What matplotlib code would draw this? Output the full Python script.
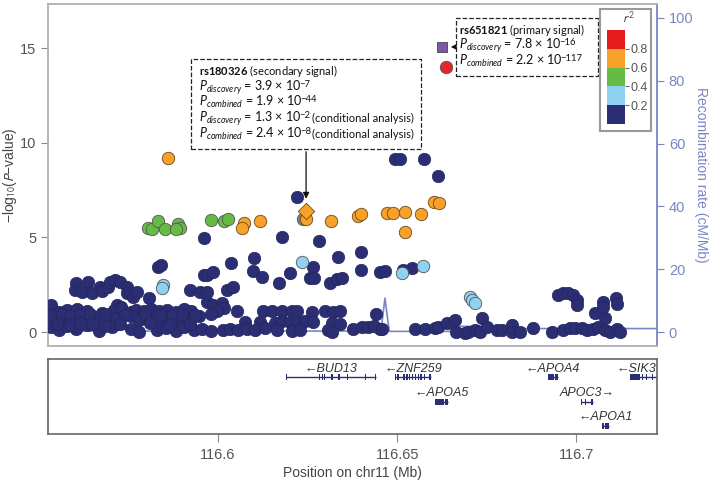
import matplotlib
matplotlib.use('Agg')
import matplotlib.pyplot as plt
from matplotlib.patches import Rectangle

plt.rcParams['font.family'] = ['Liberation Sans', 'DejaVu Sans']
plt.rcParams['mathtext.fontset'] = 'custom'
plt.rcParams['mathtext.rm'] = 'Lato'
plt.rcParams['mathtext.it'] = 'Lato:italic'
plt.rcParams['mathtext.bf'] = 'Lato:bold'

# ---- data (position in Mb, -log10 P) ----
dark_pos = [
    116.6494, 116.6508, 116.6575, 116.6614, 116.6220, 116.5961, 116.6179, 116.6282,
    116.5833, 116.5841, 116.6036, 116.6100, 116.6098, 116.6123, 116.6170, 116.6201,
    116.6265, 116.6257, 116.6268, 116.6335, 116.6312, 116.6332, 116.6346, 116.6399,
    116.6399, 116.6452, 116.6466, 116.6516, 116.6541, 116.5961, 116.5969, 116.5986,
    116.6025, 116.6042, 116.5969, 116.5986, 116.6011, 116.6017, 116.5997, 116.6053,
    # left cluster
    116.5604, 116.5637, 116.5601, 116.5621, 116.5648, 116.5671, 116.5676, 116.5693,
    116.5699, 116.5713, 116.5727, 116.5746, 116.5746, 116.5763, 116.5774, 116.5807,
    116.5922, 116.5950, 116.5969, 116.5534, 116.5719, 116.5729,
    # low band
    116.5556, 116.5579, 116.5607, 116.5635, 116.5676, 116.5710, 116.5729, 116.5757,
    116.5771, 116.5794, 116.5813, 116.5835, 116.5858, 116.5883, 116.5905, 116.5925,
    116.6126, 116.6151, 116.6179, 116.6206, 116.6220, 116.6262, 116.6299, 116.6321, 116.6340,
    116.5542, 116.5570, 116.5598, 116.5626, 116.5654, 116.5696, 116.5715, 116.5757,
    116.5780, 116.5802, 116.5830, 116.5858, 116.5886, 116.5914, 116.5947, 116.5980,
    116.6075, 116.6117, 116.6159, 116.6179, 116.6201, 116.6223, 116.6243, 116.6265,
    116.6318, 116.6340,
    116.5534, 116.5556, 116.5579, 116.5604, 116.5635, 116.5668, 116.5704, 116.5757,
    116.5780, 116.5830, 116.5855, 116.5883, 116.5905, 116.5933, 116.5955, 116.5980,
    116.6014, 116.6033, 116.6056, 116.6081, 116.6103, 116.6131, 116.6165, 116.6206,
    116.6229, 116.6307, 116.6318, 116.6377, 116.6452,
    116.5531, 116.5565, 116.5588, 116.5616, 116.5643, 116.5671, 116.5685, 116.5741,
    116.5796, 116.5838, 116.5872, 116.5900, 116.5936,
    116.5551, 116.5588, 116.5616, 116.5648, 116.5685, 116.5727, 116.5811, 116.5866, 116.5922,
    # right side
    116.6402, 116.6419, 116.6435, 116.6441, 116.6458, 116.6550, 116.6578, 116.6605,
    116.6614, 116.6639, 116.6661, 116.6664, 116.6689, 116.6698, 116.6717, 116.6731,
    116.6737, 116.6751, 116.6778, 116.6792, 116.6820, 116.6820, 116.6843, 116.6879,
    116.6932, 116.6963, 116.6982, 116.6996, 116.7016, 116.7030, 116.7046, 116.7060,
    116.7080, 116.7094, 116.7113, 116.7122,
    116.6949, 116.6963, 116.6977, 116.6990, 116.7002, 116.7002, 116.7074, 116.7074,
    116.7052, 116.7080, 116.7110, 116.7113,
]
dark_logp = [
    9.15, 9.15, 9.15, 8.25, 7.14, 4.97, 5.03, 4.81,
    3.44, 3.54, 3.65, 3.92, 3.23, 2.91, 2.59, 3.12,
    3.44, 2.86, 2.86, 3.97, 2.59, 2.80, 2.86, 4.23,
    3.28, 3.17, 3.23, 3.28, 3.39, 3.02, 3.02, 3.17,
    2.22, 2.38, 1.59, 1.43, 1.53, 1.27, 1.11, 1.11,
    2.59, 2.65, 2.22, 2.12, 2.06, 2.38, 2.17, 2.38,
    2.65, 2.75, 2.65, 2.38, 2.06, 1.85, 2.12, 1.80,
    2.22, 2.12, 2.12, 1.43, 1.43, 1.32,
    1.06, 1.16, 1.21, 1.11, 1.00, 1.16, 1.27, 1.06,
    1.16, 1.11, 1.21, 1.11, 1.16, 1.06, 1.21, 1.11,
    1.11, 1.11, 1.11, 1.11, 1.11, 1.06, 1.11, 1.06, 1.11,
    0.74, 0.58, 0.69, 0.80, 0.63, 0.53, 0.74, 0.85,
    0.63, 0.74, 0.58, 0.80, 0.69, 0.74, 0.85, 0.95,
    0.53, 0.53, 0.48, 0.58, 0.53, 0.48, 0.58, 0.53,
    0.48, 0.42,
    0.26, 0.11, 0.32, 0.16, 0.37, 0.05, 0.26, 0.16,
    0.00, 0.11, 0.21, 0.05, 0.26, 0.11, 0.16, 0.05,
    0.11, 0.16, 0.11, 0.16, 0.11, 0.21, 0.11, 0.05,
    0.11, 0.11, 0.00, 0.16, 0.16,
    0.90, 0.95, 0.85, 0.90, 0.95, 0.85, 0.95, 0.90,
    0.95, 0.90, 0.85, 0.95, 0.90,
    0.42, 0.37, 0.48, 0.42, 0.32, 0.42, 0.48, 0.37, 0.42,
    0.26, 0.26, 0.32, 0.95, 0.16, 0.16, 0.16, 0.21,
    0.26, 0.48, 0.63, 0.00, -0.05, 0.00, 0.11, 0.00,
    0.74, 0.26, 0.11, 0.11, 0.37, 0.00, 0.00, 0.21,
    0.00, 0.11, 0.21, 0.21, 0.21, 0.11, 0.16, 0.26,
    0.11, 0.00, 0.16, 0.00,
    1.96, 2.06, 2.06, 1.96, 1.69, 1.43, 1.59, 1.32,
    1.01, 0.74, 1.80, 1.48,
]

lblue_pos = [116.5847, 116.5844, 116.6234, 116.6513, 116.6572, 116.6703, 116.6709, 116.6717]
lblue_logp = [2.49, 2.33, 3.70, 3.12, 3.49, 1.85, 1.69, 1.53]

green_pos = [116.5805, 116.5816, 116.5833, 116.5852, 116.5888, 116.5894, 116.5883,
             116.5980, 116.6017, 116.6028]
green_logp = [5.50, 5.45, 5.87, 5.45, 5.71, 5.50, 5.45, 5.93, 5.87, 5.98]

orange_pos = [116.5861, 116.6073, 116.6067, 116.6117, 116.6246, 116.6315, 116.6391,
              116.6399, 116.6472, 116.6488, 116.6522, 116.6522, 116.6566, 116.6603, 116.6617]
orange_logp = [9.21, 5.77, 5.50, 5.87, 5.98, 5.87, 6.14, 6.24, 6.30, 6.30, 6.35, 5.29,
               6.24, 6.88, 6.83]

grey_pos, grey_logp = [116.6237], [5.98]
secondary_pos, secondary_logp = 116.6246, 6.40      # rs180326
primary_pos, primary_logp = 116.6625, 15.08         # rs651821 (discovery)
combined_pos, combined_logp = 116.6636, 14.00       # rs651821 (combined)

recomb_pos = [116.5526, 116.5700, 116.5745, 116.5790, 116.6455, 116.6466, 116.6478,
              116.6650, 116.6653, 116.6757, 116.6760, 116.7225]
recomb_rate = [0.3, 0.3, 0.9, 0.3, 0.3, 10.8, 0.2, 0.2, 1.8, 1.8, 1.1, 1.1]

gene_names = ['BUD13', 'ZNF259', 'APOA5', 'APOA4', 'APOC3', 'APOA1', 'SIK3']
gene_start = [116.6189, 116.6494, 116.6605, 116.6921, 116.7013, 116.7071, 116.7150]
gene_end = [116.6441, 116.6594, 116.6642, 116.6949, 116.7046, 116.7091, 116.7400]
gene_strand = ['-', '-', '-', '-', '+', '-', '-']
gene_row = [1, 1, 2, 1, 2, 3, 1]
gene_exons = [
    [(116.6189, 116.6193), (116.6281, 116.6285), (116.6290, 116.6294), (116.6296, 116.6300),
     (116.6316, 116.6320), (116.6335, 116.6341), (116.6361, 116.6364), (116.6411, 116.6414),
     (116.6437, 116.6441)],
    [(116.6494, 116.6498), (116.6501, 116.6504), (116.6517, 116.6521), (116.6525, 116.6529),
     (116.6533, 116.6537), (116.6541, 116.6545), (116.6549, 116.6553), (116.6557, 116.6561),
     (116.6565, 116.6569), (116.6575, 116.6579), (116.6588, 116.6594)],
    [(116.6605, 116.6630), (116.6633, 116.6642)],
    [(116.6921, 116.6937), (116.6940, 116.6949)],
    [(116.7013, 116.7016), (116.7025, 116.7028), (116.7042, 116.7046)],
    [(116.7071, 116.7077), (116.7081, 116.7091)],
    [(116.7150, 116.7178), (116.7183, 116.7186), (116.7195, 116.7198), (116.7210, 116.7213)],
]

ld_bins = [0.0, 0.2, 0.4, 0.6, 0.8]
ld_colors = ['#2b2e72', '#8ed1f1', '#66bb44', '#f7a12b', '#e41a1c']

navy = '#2b2e72'
rec_col = '#7a86c4'
xmin, xmax = 116.5526, 116.7225


def pline(ax, x, y, label, value, expo, tail_x=None):
    # P-value line: base text, then a raised exponent placed right after it
    kw = dict(family='Lato', color='#111', va='baseline', zorder=8)
    base = ax.text(x, y, '$P_{%s}$ = %s \u00d7 10' % (label, value), transform=ax.transAxes,
                   fontsize=9, **kw)
    ax.annotate('\u2212' + expo, xy=(1, y), xycoords=(base, 'axes fraction'),
                xytext=(-1.5, 3.0), textcoords='offset points', fontsize=6.8, **kw)
    if tail_x is not None:
        ax.text(tail_x, y, '(conditional analysis)', transform=ax.transAxes, fontsize=8, **kw)


def display():
    fig = plt.figure(figsize=(7.09, 4.82), dpi=100)

    ax = fig.add_axes([48 / 709, 1 - 346 / 482, 609 / 709, 342 / 482])
    ax2 = ax.twinx()
    ax.set_zorder(ax2.get_zorder() + 1)
    ax.patch.set_visible(False)

    ax2.plot(recomb_pos, recomb_rate, color=rec_col, lw=1.2)

    ax.scatter(dark_pos, dark_logp, s=80, c=navy, edgecolors='#23255e', linewidths=0.5, zorder=3)
    ax.scatter(lblue_pos, lblue_logp, s=80, c=ld_colors[1], edgecolors='#555', linewidths=0.6, zorder=4)
    ax.scatter(green_pos, green_logp, s=80, c=ld_colors[2], edgecolors='#555', linewidths=0.6, zorder=4)
    ax.scatter(grey_pos, grey_logp, s=80, c='#7f7f7f', edgecolors='#555', linewidths=0.6, zorder=4)
    ax.scatter(orange_pos, orange_logp, s=80, c=ld_colors[3], edgecolors='#6b4a1a', linewidths=0.6, zorder=5)
    ax.scatter([secondary_pos], [secondary_logp], s=70, marker='D', c=ld_colors[3],
               edgecolors='#6b4a1a', linewidths=0.6, zorder=6)
    ax.scatter([primary_pos], [primary_logp], s=60, marker='s', c='#7d58a6',
               edgecolors='#444', linewidths=0.6, zorder=6)
    ax.scatter([combined_pos], [combined_logp], s=80, c='#e2262b',
               edgecolors='#555', linewidths=0.6, zorder=6)

    ax.set_xlim(xmin, xmax)
    ax.set_ylim(-0.74, 17.35)
    ax2.set_ylim(-0.74 * 6.02, 17.35 * 6.02)
    ax.set_xticks([])
    ax.set_yticks([0, 5, 10, 15])
    ax2.set_yticks([0, 20, 40, 60, 80, 100])
    ax.tick_params(axis='y', direction='out', length=5, color='#888', labelcolor='#555', labelsize=10.5)
    ax2.tick_params(axis='y', direction='out', length=5, color=rec_col, labelcolor=rec_col, labelsize=10.5)

    for s in ['left', 'top', 'bottom']:
        ax.spines[s].set_color('#b0b0b0')
        ax.spines[s].set_linewidth(1.3)
        ax2.spines[s].set_visible(False)
    ax.spines['right'].set_visible(False)
    ax2.spines['right'].set_color(rec_col)
    ax2.spines['right'].set_linewidth(1.3)

    fig.text(10 / 709, 1 - 175 / 482, '\u2212log$_{10}$($\\mathit{P}$\u2212value)', rotation=90,
             ha='center', va='center', fontsize=10, color='#444', math_fontfamily='stixsans')
    fig.text(701 / 709, 1 - 175 / 482, 'Recombination rate (cM/Mb)', rotation=270,
             ha='center', va='center', fontsize=10, color=rec_col)

    # annotation boxes
    box_kw = dict(transform=ax.transAxes, fc='white', ec='#222', lw=0.9, ls='--', zorder=7)
    ax.add_patch(Rectangle((0.2348, 0.576), 0.3777, 0.263, **box_kw))
    ax.add_patch(Rectangle((0.670, 0.7895), 0.2332, 0.1696, **box_kw))

    tk = dict(transform=ax.transAxes, family='Lato', color='#111', va='baseline', zorder=8)
    ax.text(0.248, 0.7925, r'$\mathbf{rs180326}$ (secondary signal)', fontsize=8, **tk)
    pline(ax, 0.248, 0.7456, 'discovery', '3.9', '7')
    pline(ax, 0.248, 0.7018, 'combined', '1.9', '44')
    pline(ax, 0.248, 0.655, 'discovery', '1.3', '2', tail_x=0.4335)
    pline(ax, 0.248, 0.6082, 'combined', '2.4', '8', tail_x=0.4335)

    ax.text(0.675, 0.9124, r'$\mathbf{rs651821}$ (primary signal)', fontsize=8, **tk)
    pline(ax, 0.675, 0.8684, 'discovery', '7.8', '16')
    pline(ax, 0.675, 0.8216, 'combined', '2.2', '117')

    ax.annotate('', xy=(secondary_pos, 6.9), xytext=(secondary_pos, 9.68),
                arrowprops=dict(arrowstyle='-|>', color='#111', lw=0.9, mutation_scale=9), zorder=8)
    ax.annotate('', xy=(116.6642, primary_logp), xytext=(116.6668, primary_logp),
                arrowprops=dict(arrowstyle='-|>', color='#111', lw=0.9, mutation_scale=7), zorder=8)

    # r2 legend
    lbox = fig.add_axes([600 / 709, 1 - 131 / 482, 51 / 709, 122 / 482])
    lbox.set_zorder(10)
    lbox.set_xticks([])
    lbox.set_yticks([])
    for s in lbox.spines.values():
        s.set_color('#999')
        s.set_linewidth(1.5)
    lbox.text(0.55, 0.925, r'$r^2$', transform=lbox.transAxes, ha='center', va='center',
              fontsize=10, color='#555', math_fontfamily='stixsans')
    cax = fig.add_axes([607 / 709, 1 - 124 / 482, 18 / 709, 94 / 482])
    cax.set_zorder(11)
    cax.bar([0] * 5, [0.2] * 5, bottom=ld_bins, width=1, color=ld_colors)
    cax.set_xlim(-0.5, 0.5)
    cax.set_ylim(0, 1)
    cax.set_xticks([])
    cax.yaxis.tick_right()
    cax.set_yticks([0.2, 0.4, 0.6, 0.8])
    cax.set_yticklabels(['0.2', '0.4', '0.6', '0.8'])
    cax.tick_params(axis='y', length=3, width=0.8, color='#666', labelcolor='#555', labelsize=9, pad=1)
    for s in cax.spines.values():
        s.set_visible(False)

    # gene track
    gax = fig.add_axes([48 / 709, 1 - 434 / 482, 609 / 709, 75 / 482])
    gax.set_xlim(xmin, xmax)
    gax.set_ylim(0, 75)
    row_y = {1: 57, 2: 32, 3: 8}
    for name, st, en, strand, row, exons in zip(gene_names, gene_start, gene_end,
                                                gene_strand, gene_row, gene_exons):
        y = row_y[row]
        gax.plot([st, en], [y, y], color=navy, lw=1.0, solid_capstyle='butt', clip_on=True)
        for a, b in exons:
            gax.add_patch(Rectangle((a, y - 3), b - a, 6, color=navy, lw=0))
        label = '\u2190' + name if strand == '-' else name + '\u2192'
        if name == 'SIK3':
            gax.text(xmax - 0.0003, y + 8.5, label, ha='right', va='center', fontsize=9,
                     style='italic', color='#333')
        else:
            gax.text((st + en) / 2, y + 8.5, label, ha='center', va='center', fontsize=9,
                     style='italic', color='#333')
    gax.set_yticks([])
    gax.set_xticks([116.6, 116.65, 116.7])
    gax.set_xticklabels(['116.6', '116.65', '116.7'])
    gax.tick_params(axis='x', direction='out', length=6, color='#888', labelcolor='#555',
                    labelsize=10.5, pad=4)
    for s in gax.spines.values():
        s.set_color('#666')
        s.set_linewidth(1.2)
    fig.text(352 / 709, 1 - 473 / 482, 'Position on chr11 (Mb)', ha='center', va='center',
             fontsize=10, color='#444')

    fig.savefig('out.png', dpi=100)


if __name__ == '__main__':
    display()
